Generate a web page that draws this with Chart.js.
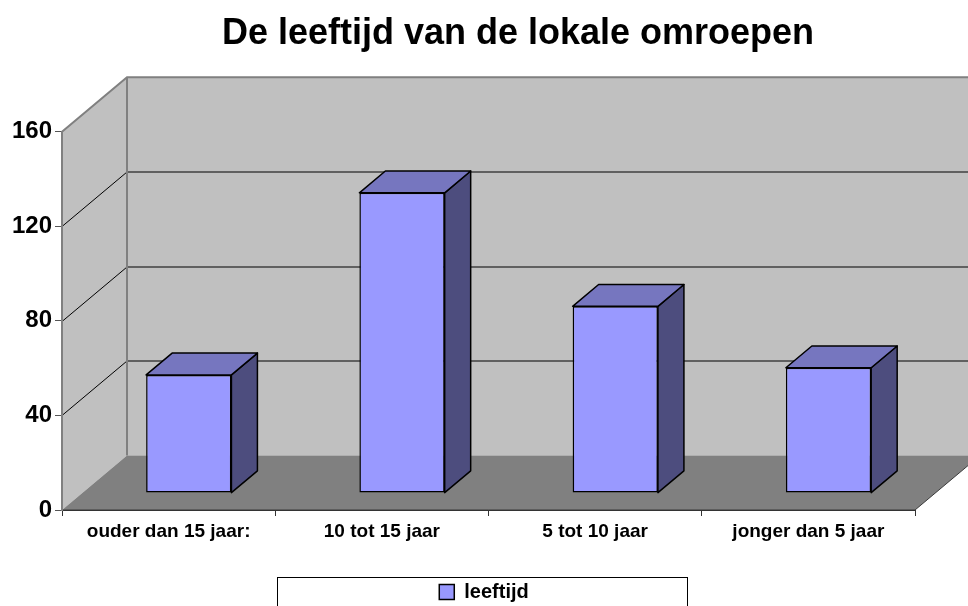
<!DOCTYPE html>
<html>
<head>
<meta charset="utf-8">
<title>De leeftijd van de lokale omroepen</title>
<script src="https://cdn.jsdelivr.net/npm/chart.js@4.4.1/dist/chart.umd.min.js"></script>
<style>
  html, body { margin: 0; padding: 0; background: #fff; }
  canvas { display: block; }
</style>
</head>
<body>
<canvas id="leeftijd" width="968" height="606"></canvas>
<script>
const categories = ["ouder dan 15 jaar:", "10 tot 15 jaar", "5 tot 10 jaar", "jonger dan 5 jaar"];
const seriesLabel = "leeftijd";
const leeftijd = [50, 127, 79, 53];
const yTicks = [0, 40, 80, 120, 160];

// the 3d look: how far the back wall sits behind the axes, and where the bars stand in that depth
const depth = { x: 65, y: -54.5 };
const barFront = 0.31;
const barBack = 0.71;

Chart.defaults.font.family = "'Liberation Sans', Arial, sans-serif";
Chart.defaults.color = "#000";

const box3d = {
  id: "box3d",
  afterLayout(chart) {
    // excel draws its title a bit right of the middle
    const t = chart.titleBlock;
    t.left += 34;
    t.right += 34;
  },
  beforeDraw(chart) {
    const { ctx, chartArea, scales } = chart;
    const L = chartArea.left, R = chartArea.right, T = chartArea.top, B = chartArea.bottom;
    const dx = depth.x, dy = depth.y;
    ctx.save();

    // back wall + side wall
    ctx.fillStyle = "#c0c0c0";
    ctx.fillRect(L + dx, T + dy, R - L, B - T);
    ctx.beginPath();
    ctx.moveTo(L, T);
    ctx.lineTo(L + dx, T + dy);
    ctx.lineTo(L + dx, B + dy);
    ctx.lineTo(L, B);
    ctx.closePath();
    ctx.fill();

    // floor
    ctx.fillStyle = "#808080";
    ctx.beginPath();
    ctx.moveTo(L, B);
    ctx.lineTo(R, B);
    ctx.lineTo(R + dx, B + dy);
    ctx.lineTo(L + dx, B + dy);
    ctx.closePath();
    ctx.fill();
    ctx.strokeStyle = "#3a3a3a";
    ctx.lineWidth = 1;
    ctx.beginPath();
    ctx.moveTo(L, B);
    ctx.lineTo(R, B);
    ctx.lineTo(R + dx, B + dy);
    ctx.stroke();

    // gridlines over both walls
    ctx.strokeStyle = "#000";
    ctx.lineWidth = 1;
    yTicks.forEach(v => {
      if (v <= scales.y.min || v >= scales.y.max) return;
      const py = Math.round(scales.y.getPixelForValue(v)) + 0.5;
      ctx.beginPath();
      ctx.moveTo(L, py);
      ctx.lineTo(L + dx, py + dy);
      ctx.lineTo(R + dx, py + dy);
      ctx.stroke();
    });

    // wall edges
    ctx.strokeStyle = "#808080";
    ctx.lineWidth = 2;
    ctx.beginPath();
    ctx.moveTo(L, T);
    ctx.lineTo(L + dx, T + dy);
    ctx.lineTo(R + dx, T + dy);
    ctx.moveTo(L + dx, T + dy);
    ctx.lineTo(L + dx, B + dy);
    ctx.stroke();
    ctx.restore();
  },
  beforeDatasetDraw(chart) {
    // let the library draw the bar fronts, pushed back into the box
    chart.ctx.save();
    chart.ctx.translate(depth.x * barFront, depth.y * barFront);
  },
  afterDatasetDraw(chart, args) {
    const ctx = chart.ctx;
    ctx.restore();
    const fx = depth.x * barFront, fy = depth.y * barFront;
    const bx = depth.x * (barBack - barFront), by = depth.y * (barBack - barFront);
    ctx.save();
    ctx.strokeStyle = "#000";
    ctx.lineWidth = 1.5;
    ctx.lineJoin = "round";
    args.meta.data.forEach(bar => {
      const { x, y, base, width } = bar.getProps(["x", "y", "base", "width"], true);
      const l = x - width / 2 + fx, r = x + width / 2 + fx;
      const t = y + fy, b = base + fy;
      // side
      ctx.fillStyle = "#4d4d7e";
      ctx.beginPath();
      ctx.moveTo(r, t);
      ctx.lineTo(r + bx, t + by);
      ctx.lineTo(r + bx, b + by);
      ctx.lineTo(r, b);
      ctx.closePath();
      ctx.fill();
      ctx.stroke();
      // top
      ctx.fillStyle = "#7676bf";
      ctx.beginPath();
      ctx.moveTo(l, t);
      ctx.lineTo(l + bx, t + by);
      ctx.lineTo(r + bx, t + by);
      ctx.lineTo(r, t);
      ctx.closePath();
      ctx.fill();
      ctx.stroke();
    });
    ctx.restore();
  },
  afterDraw(chart) {
    // frame round the legend
    const ctx = chart.ctx;
    ctx.save();
    ctx.strokeStyle = "#000";
    ctx.lineWidth = 1;
    ctx.strokeRect(277.5, 577.5, 410, 40);
    ctx.restore();
  }
};

new Chart("leeftijd", {
  type: "bar",
  data: {
    labels: categories,
    datasets: [{
      label: seriesLabel,
      data: leeftijd,
      backgroundColor: "#9999ff",
      borderColor: "#000",
      borderWidth: 1.5,
      borderSkipped: false,
      barPercentage: 0.4,
      categoryPercentage: 1.0,
      clip: false
    }]
  },
  options: {
    responsive: false,
    animation: false,
    layout: { padding: { top: 0, left: 0, right: 0, bottom: -6 } },
    scales: {
      x: {
        ticks: { font: { size: 19, weight: "bold" }, padding: 4, maxRotation: 0, autoSkip: false },
        grid: { drawOnChartArea: false, tickLength: 6, color: "#333" },
        border: { color: "#333" },
        afterFit(s) { s.height = 68; }
      },
      y: {
        min: 0,
        max: 160,
        afterBuildTicks(s) { s.ticks = yTicks.map(v => ({ value: v })); },
        ticks: { font: { size: 24, weight: "bold" }, padding: 3 },
        grid: { drawOnChartArea: false, tickLength: 7, color: "#555" },
        border: { color: "#808080", width: 2 },
        afterFit(s) { s.width = 62; }
      },
      y2: {
        position: "right",
        grid: { display: false },
        border: { display: false },
        ticks: { display: false },
        afterFit(s) { s.width = 53; }
      }
    },
    plugins: {
      title: {
        display: true,
        text: "De leeftijd van de lokale omroepen",
        font: { size: 36, weight: "bold" },
        color: "#000",
        padding: { top: 12, bottom: 76.5 }
      },
      legend: {
        position: "bottom",
        labels: {
          boxWidth: 15,
          boxHeight: 15,
          padding: 4,
          font: { size: 20, weight: "bold" },
          color: "#000"
        }
      },
      tooltip: { enabled: false }
    }
  },
  plugins: [box3d]
});
</script>
</body>
</html>
